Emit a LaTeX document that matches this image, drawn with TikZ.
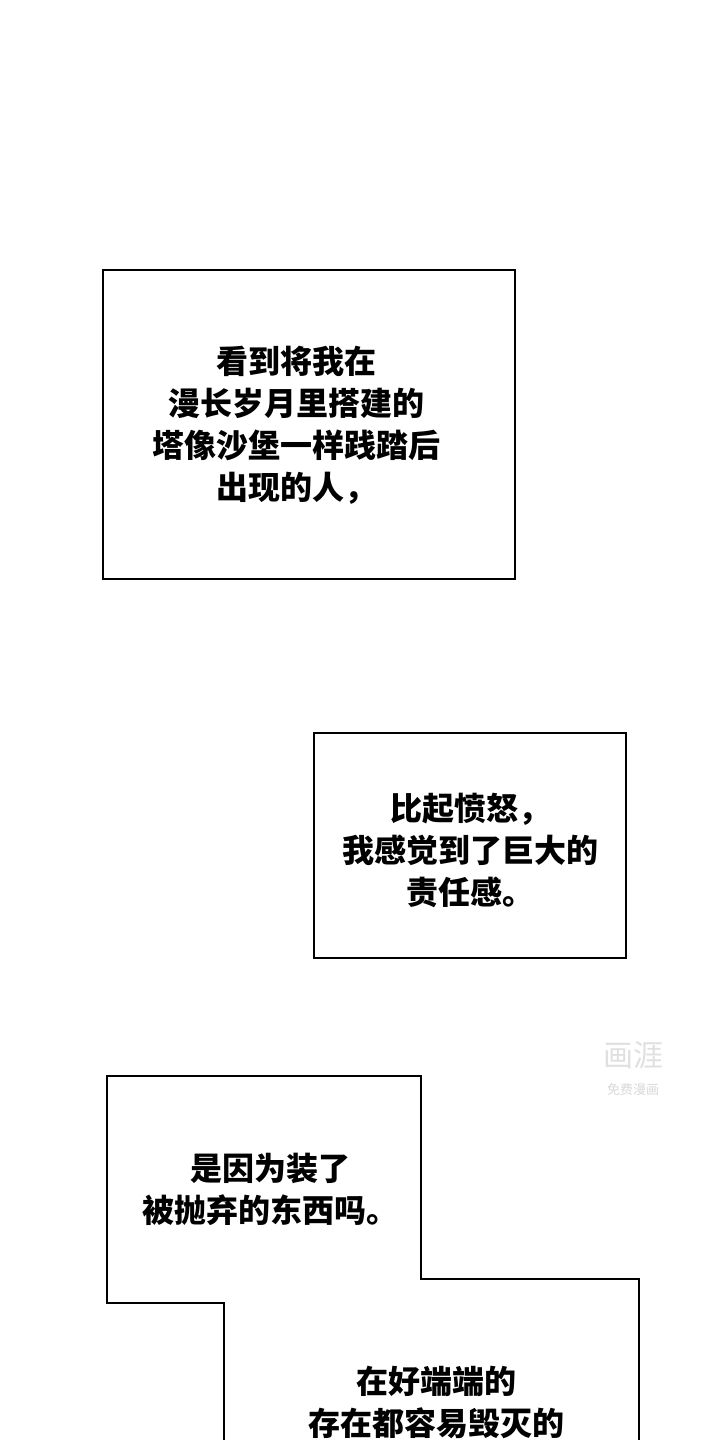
\documentclass[tikz,border=0pt]{standalone}
\usepackage{fontspec}
\newfontfamily\cjk{Noto Sans CJK SC}
\begin{document}
\begin{tikzpicture}[x=1pt,y=-1pt,
  box/.style={draw=black,line width=2.6pt},
  txt/.style={font=\cjk\bfseries\fontsize{32}{42}\selectfont,align=center,inner sep=0pt}]
\useasboundingbox[fill=white] (0,0) rectangle (720,1440);
\draw[box] (103,270) rectangle (515,579);
\node[txt] (t1) at (296,425) {看到将我在\\漫长岁月里搭建的\\塔像沙堡一样践踏后\\出现的人，};
\draw[box] (314,733) rectangle (626,958);
\node[txt] (t2) at (470,850) {比起愤怒，\\我感觉到了巨大的\\责任感。};
\draw[box] (224,1445) -- (224,1303) -- (107,1303) -- (107,1076) -- (421,1076) -- (421,1279) -- (639,1279) -- (639,1445);
\node[txt] (t3) at (270,1189) {是因为装了\\被抛弃的东西吗。};
\node[txt,anchor=north] (t4) at (436,1366) {在好端端的\\存在都容易毁灭的};
\node[font=\cjk\fontsize{30}{30}\selectfont,text=black!12,inner sep=0pt] (w1) at (633,1055) {画涯};
\node[font=\cjk\fontsize{13}{13}\selectfont,text=black!15,inner sep=0pt] (w2) at (633,1090) {免费漫画};
\end{tikzpicture}
\end{document}
